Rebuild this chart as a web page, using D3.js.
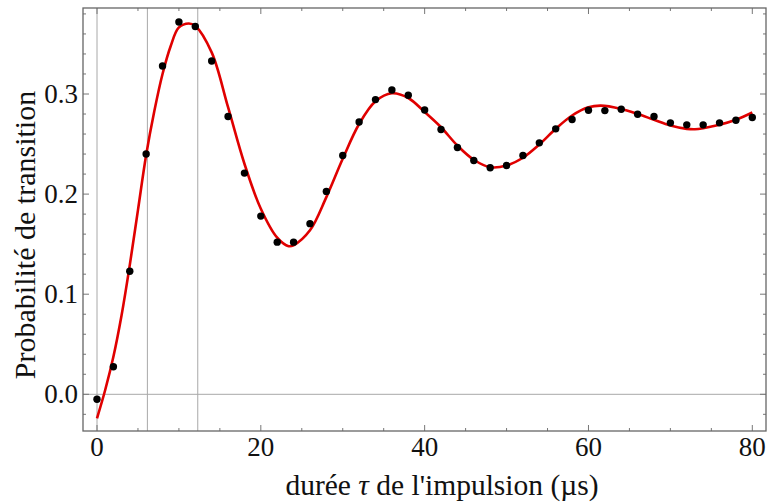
<!DOCTYPE html>
<html><head><meta charset="utf-8">
<script src="https://cdn.jsdelivr.net/npm/d3@7"></script>
<style>
html,body{margin:0;padding:0;background:#fff;}
svg{display:block;}
text{font-family:"Liberation Serif","Times New Roman",serif;fill:#111;}
</style></head>
<body>
<script>
// Measured points: pulse duration (µs) and transition probability
const tauData = [0,2,4,6,8,10,12,14,16,18,20,22,24,26,28,30,32,34,36,38,40,42,44,46,48,50,52,54,56,58,60,62,64,66,68,70,72,74,76,78,80];
const probData = [-0.005,0.0275,0.123,0.240,0.328,0.372,0.3675,0.333,0.2775,0.221,0.178,0.152,0.152,0.1705,0.2027,0.2386,0.272,0.2944,0.304,0.2987,0.284,0.2645,0.2466,0.2336,0.2263,0.2286,0.2386,0.2512,0.2652,0.2745,0.2838,0.2834,0.2847,0.2797,0.2775,0.2712,0.2692,0.2692,0.2712,0.2738,0.2765];
// Fitted curve
const fitTau = [0,1,2,3,4,5,6,7,8,9,10,11.2,12,14,16,18,20,22,23.4,24,26,28,30,32,34,36,38,40,42,44,46,48,50,52,54,56,58,60,61.5,64,66,68,70,72,73,74,76,78,80];
const fitProb = [-0.024,0.0043,0.0375,0.079,0.129,0.184,0.239,0.283,0.320,0.348,0.3665,0.3705,0.368,0.3416,0.2868,0.2303,0.1854,0.1565,0.148,0.1489,0.1638,0.197,0.2353,0.270,0.2927,0.3007,0.296,0.282,0.2668,0.2485,0.2343,0.2269,0.2286,0.2363,0.2495,0.2652,0.2785,0.2867,0.2884,0.2851,0.2802,0.2742,0.2685,0.2652,0.2648,0.2658,0.2692,0.2742,0.2815];
const xTicksMajor = [0,20,40,60,80];
const yTicksMajor = [0.0,0.1,0.2,0.3];
const xRefLines = [0,6.15,12.3];
const yRefLines = [0];
const xLabelParts = ["durée ", "\u03C4", " de l'impulsion (\u00B5s)"];
const yLabel = "Probabilité de transition";

const W=769,H=504;
const L=83,R=766,T=8,B=431;
const x=d3.scaleLinear().domain([0,80]).range([97,752.3]);
const y=d3.scaleLinear().domain([0,0.3]).range([394.3,94]);

const svg=d3.select("body").append("svg").attr("width",W).attr("height",H);

// reference lines
svg.selectAll(".vref").data(xRefLines).enter().append("line")
 .attr("x1",d=>x(d)).attr("x2",d=>x(d)).attr("y1",T).attr("y2",B)
 .attr("stroke","#a8a8a8").attr("stroke-width",1);
svg.selectAll(".href").data(yRefLines).enter().append("line")
 .attr("x1",L).attr("x2",R).attr("y1",d=>y(d)).attr("y2",d=>y(d))
 .attr("stroke","#a8a8a8").attr("stroke-width",1);

// ticks
const xMinor=d3.range(0,81,5).filter(v=>!xTicksMajor.includes(v));
const yMinor=d3.range(-0.02,0.385,0.02).map(v=>+v.toFixed(2)).filter(v=>!yTicksMajor.some(m=>Math.abs(m-v)<1e-9));
const tc="#777";
function vt(vals,len){
  vals.forEach(v=>{
    svg.append("line").attr("x1",x(v)).attr("x2",x(v)).attr("y1",B).attr("y2",B-len).attr("stroke",tc);
    svg.append("line").attr("x1",x(v)).attr("x2",x(v)).attr("y1",T).attr("y2",T+len).attr("stroke",tc);
  });
}
function ht(vals,len){
  vals.forEach(v=>{
    svg.append("line").attr("y1",y(v)).attr("y2",y(v)).attr("x1",L).attr("x2",L+len).attr("stroke",tc);
    svg.append("line").attr("y1",y(v)).attr("y2",y(v)).attr("x1",R).attr("x2",R-len).attr("stroke",tc);
  });
}
vt(xTicksMajor,6); vt(xMinor,3);
ht(yTicksMajor,6); ht(yMinor,3);

// frame
svg.append("rect").attr("x",L).attr("y",T).attr("width",R-L).attr("height",B-T)
 .attr("fill","none").attr("stroke","#666").attr("stroke-width",1.3);

// tick labels
svg.selectAll(".xl").data(xTicksMajor).enter().append("text")
 .attr("x",d=>x(d)).attr("y",456).attr("text-anchor","middle").attr("font-size",27).text(d=>d);
svg.selectAll(".yl").data(yTicksMajor).enter().append("text")
 .attr("x",78).attr("y",d=>y(d)+9).attr("text-anchor","end").attr("font-size",27).text(d=>d.toFixed(1));

// axis titles
const xt=svg.append("text").attr("x",442).attr("y",495).attr("text-anchor","middle").attr("font-size",29.5);
xt.selectAll("tspan").data(xLabelParts).enter().append("tspan")
 .attr("font-style",(d,i)=>i===1?"italic":null).text(d=>d);
svg.append("text").attr("transform","translate(35,235) rotate(-90)").attr("text-anchor","middle").attr("font-size",30).text(yLabel);

// fit curve
const line=d3.line().x((d,i)=>x(fitTau[i])).y(d=>y(d)).curve(d3.curveCatmullRom.alpha(0.5));
svg.append("path").datum(fitProb).attr("d",line).attr("fill","none").attr("stroke","#e00000").attr("stroke-width",2.6);

// data points
svg.selectAll(".pt").data(probData).enter().append("circle")
 .attr("cx",(d,i)=>x(tauData[i])).attr("cy",d=>y(d)).attr("r",3.7).attr("fill","#000");
</script>
</body></html>
